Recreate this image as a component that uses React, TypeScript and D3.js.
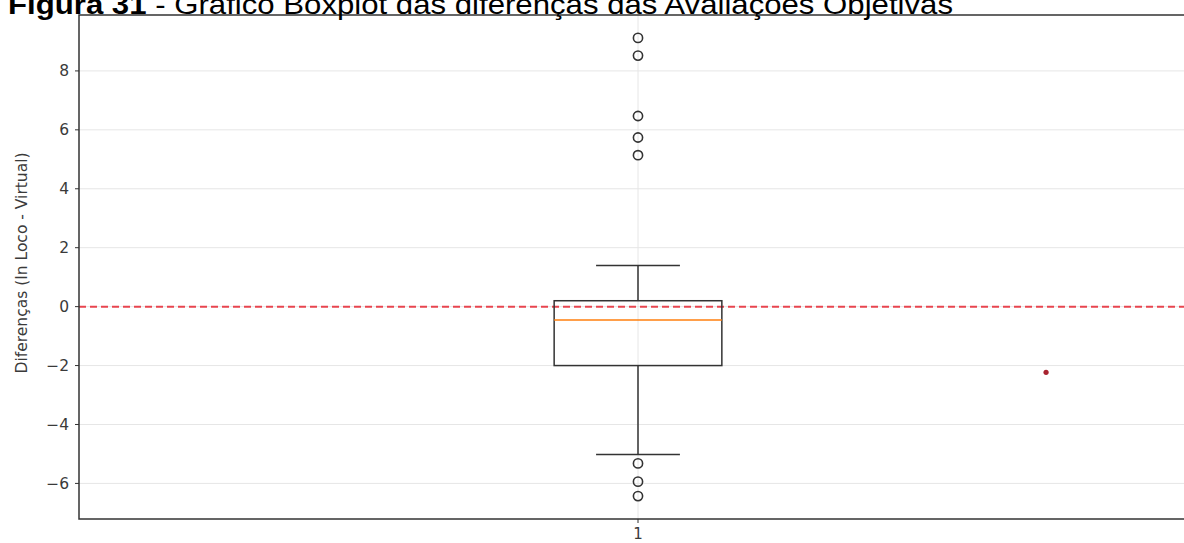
import React from 'react'
import * as d3 from 'd3'

// box statistics
const boxStats = { q1: -2.0, median: -0.45, q3: 0.2, whiskerLow: -5.02, whiskerHigh: 1.4 }
const outliers = [9.12, 8.52, 6.47, 5.74, 5.14, -5.32, -5.94, -6.43]
const extraPoint = { x: 1.365, y: -2.23 }
const yTicks = [-6, -4, -2, 0, 2, 4, 6, 8]
const xTicks = [1]
const titleBold = 'Figura 31'
const titleRest = ' - Gráfico Boxplot das diferenças das Avaliações Objetivas'
const yLabel = 'Diferenças (In Loco - Virtual)'

const App = () => {
    const width = 1184,
        height = 543
    const left = 79,
        top = 15,
        bottom = 519

    // matplotlib-like 5% margin around the data
    const all = [...outliers, boxStats.whiskerLow, boxStats.whiskerHigh, extraPoint.y]
    const lo = d3.min(all) as number,
        hi = d3.max(all) as number
    const pad = (hi - lo) * 0.05
    const y = d3.scaleLinear().domain([lo - pad, hi + pad]).range([bottom, top])
    // x from 0.5 to 1.5, the right part is cut off by the page
    const x = d3.scaleLinear().domain([0.5, 1.5]).range([left, left + 1118])

    const boxW = 0.15
    const cx = x(1)
    const bx0 = x(1 - boxW / 2),
        bx1 = x(1 + boxW / 2)
    const cx0 = x(1 - boxW / 4),
        cx1 = x(1 + boxW / 4)
    const ink = '#333333'

    return (
        <svg width={width} height={height} style={{ position: 'absolute', left: 0, top: 0, background: '#fff' }}
            fontFamily="'DejaVu Sans', sans-serif">
            {/* grid */}
            {yTicks.map(t => (
                <line key={'g' + t} x1={left} x2={width} y1={y(t)} y2={y(t)} stroke="#e6e6e6" strokeWidth={1} />
            ))}
            {xTicks.map(t => (
                <line key={'gx' + t} x1={x(t)} x2={x(t)} y1={top} y2={bottom} stroke="#e6e6e6" strokeWidth={1} />
            ))}

            {/* zero reference */}
            <line x1={left} x2={width} y1={y(0)} y2={y(0)} stroke="#e8454f" strokeWidth={2} strokeDasharray="7,4" />

            {/* whiskers */}
            <line x1={cx} x2={cx} y1={y(boxStats.q3)} y2={y(boxStats.whiskerHigh)} stroke={ink} strokeWidth={1.5} />
            <line x1={cx} x2={cx} y1={y(boxStats.q1)} y2={y(boxStats.whiskerLow)} stroke={ink} strokeWidth={1.5} />
            <line x1={cx0} x2={cx1} y1={y(boxStats.whiskerHigh)} y2={y(boxStats.whiskerHigh)} stroke={ink} strokeWidth={1.5} />
            <line x1={cx0} x2={cx1} y1={y(boxStats.whiskerLow)} y2={y(boxStats.whiskerLow)} stroke={ink} strokeWidth={1.5} />
            {/* box */}
            <rect x={bx0} y={y(boxStats.q3)} width={bx1 - bx0} height={y(boxStats.q1) - y(boxStats.q3)}
                fill="none" stroke={ink} strokeWidth={1.5} />
            <line x1={bx0} x2={bx1} y1={y(boxStats.median)} y2={y(boxStats.median)} stroke="#ff7f0e" strokeWidth={1.5} />
            {/* fliers */}
            {outliers.map((v, i) => (
                <circle key={'o' + i} cx={cx} cy={y(v)} r={4.6} fill="none" stroke={ink} strokeWidth={1.6} />
            ))}
            <circle cx={x(extraPoint.x)} cy={y(extraPoint.y)} r={2.6} fill="#a8232f" />

            {/* spines */}
            <rect x={left} y={top} width={width + 10 - left} height={bottom - top} fill="none" stroke={ink} strokeWidth={1.5} />

            {/* y axis */}
            {yTicks.map(t => (
                <g key={'t' + t} transform={`translate(${left},${y(t)})`}>
                    <line x1={-4} x2={0} stroke={ink} strokeWidth={1} />
                    <text x={-10} dy="0.35em" textAnchor="end" fontSize={15.5} fill="#3a3a3a">
                        {t < 0 ? '\u2212' + Math.abs(t) : t}
                    </text>
                </g>
            ))}
            {/* x axis */}
            {xTicks.map(t => (
                <g key={'xt' + t} transform={`translate(${x(t)},${bottom})`}>
                    <line y1={0} y2={4} stroke={ink} strokeWidth={1} />
                    <text y={15} dy="0.35em" textAnchor="middle" fontSize={15} fill="#3a3a3a">{t}</text>
                </g>
            ))}
            <text transform={`translate(27,${(top + bottom) / 2 - 4}) rotate(-90)`} textAnchor="middle" fontSize={15.5} fill="#3a3a3a">
                {yLabel}
            </text>

            {/* figure caption */}
            <text x={8} y={14} fontFamily="'Liberation Sans', Arial, sans-serif" fontSize={28} fill="#000"
                textLength={945} lengthAdjust="spacingAndGlyphs">
                <tspan fontWeight="bold">{titleBold}</tspan>
                <tspan>{titleRest}</tspan>
            </text>
        </svg>
    )
}

export default App
